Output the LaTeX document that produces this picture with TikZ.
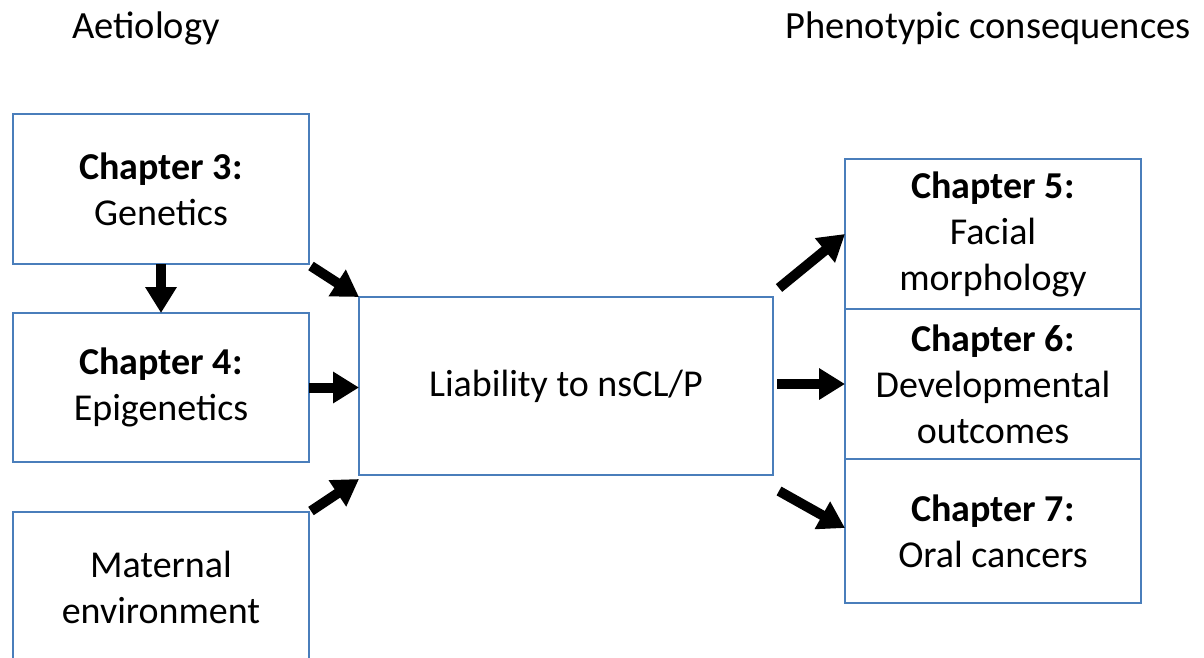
\documentclass[tikz,border=0pt]{standalone}
\usepackage{fontspec}
\setmainfont{Carlito}
\usetikzlibrary{arrows.meta,calc}
\definecolor{boxblue}{RGB}{74,126,187}
\tikzset{
  chbox/.style={draw=boxblue, line width=1.8pt, fill=white, minimum width=296pt, inner sep=0pt, outer sep=0pt, align=center, font=\fontsize{38}{46}\selectfont},
  blk/.style={line width=10pt, draw=black, -{Triangle[length=26pt,width=30pt]}},
  toplabel/.style={font=\fontsize{38.5}{46}\selectfont, inner sep=0pt}
}
\begin{document}
\begin{tikzpicture}[x=1pt,y=-1pt]
\useasboundingbox (0,0) rectangle (1204,657);
\clip (0,0) rectangle (1204,657);
\node[toplabel] (aet) at (146,28) {Aetiology};
\node[toplabel] (phen) at (988,28) {Phenotypic consequences};
\node[chbox, minimum height=150pt] (gen) at (161,189) {\textbf{Chapter 3:}\\Genetics};
\node[chbox, minimum height=149pt] (epi) at (161,387.5) {\textbf{Chapter 4:}\\Epigenetics};
\node[chbox, minimum height=150pt] (mat) at (161,587) {Maternal\\environment};
\node[chbox, minimum width=414pt, minimum height=178pt] (liab) at (566,386) {Liability to nsCL/P};
\node[chbox, minimum height=150pt] (c5) at (993,234) {\textbf{Chapter 5:}\\Facial\\morphology};
\node[chbox, minimum height=150pt] (c6) at (993,384) {\textbf{Chapter 6:}\\Developmental\\outcomes};
\node[chbox, minimum height=144pt] (c7) at (993,531) {\textbf{Chapter 7:}\\Oral cancers};
\draw[blk] (gen.south) -- (epi.north);
\draw[blk] ($(gen.south east)+(2,2)$) -- (liab.north west);
\draw[blk] (epi.east) -- (epi.east -| liab.west);
\draw[blk] ($(mat.north east)+(2,-1)$) -- ($(liab.south west)+(0,4)$);
\draw[blk] ($(liab.north east)+(6,-9)$) -- (c5.west);
\draw[blk] ($(liab.east)+(4,-2)$) -- ($(c6.west)+(0,0)$);
\draw[blk] ($(liab.south east)+(6,16)$) -- ($(c7.west)+(0,-3)$);
\end{tikzpicture}
\end{document}
